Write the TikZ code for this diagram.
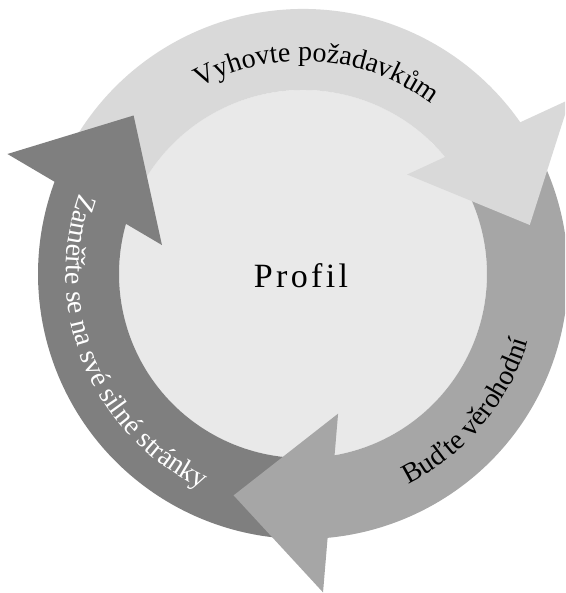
\documentclass[tikz,border=0pt]{standalone}
\usepackage{fontspec}
\setmainfont{Liberation Serif}
\newfontfamily\profilfont[LetterSpace=10]{Liberation Serif}
\usetikzlibrary{decorations.text,calc}
\usepackage{xcolor}

\definecolor{ringlight}{HTML}{D9D9D9}
\definecolor{ringmid}{HTML}{A6A6A6}
\definecolor{ringdark}{HTML}{7F7F7F}
\definecolor{hubfill}{HTML}{E9E9E9}
\newcommand\ringfont{\fontsize{28}{32}\selectfont}

\tikzset{
  ringtext/.style={decorate, decoration={text along path, text align=center}}
}

\begin{document}
\begin{tikzpicture}[x=1pt,y=1pt]

\useasboundingbox (-303,-319) rectangle (262,274);
\clip (-303,-319) rectangle (262,274);

% hub
\fill[hubfill] (0,0) circle[radius=184];

% ring pieces: colour / start / end
\foreach \col/\s/\e in {ringlight/152/30, ringmid/27/-89.5, ringdark/267.6/155} {
    \fill[\col] (\s:265) arc[start angle=\s, end angle=\e, radius=265]
        -- (\e:184) arc[start angle=\e, end angle=\s, radius=184] -- cycle;
}

% arrow heads: colour / tip angle
\foreach \col/\t in {ringlight/12.2, ringmid/-107.4, ringdark/136.9} {
    \fill[\col] (\t:232) -- ({\t+21}:319) -- ({\t+31.5}:144) -- cycle;
}

\node[font=\profilfont\fontsize{34}{40}\selectfont] (profil) at (-2,-2) {Profil};

% labels on the ring
\path[ringtext, decoration={text={|\ringfont|Vyhovte požadavkům}}]
    (136:213) arc[start angle=136, end angle=36, radius=213];
\path[ringtext, decoration={text={|\ringfont|Buďte věrohodní}}]
    (-88:235) arc[start angle=-88, end angle=8, radius=235];
\path[ringtext, decoration={text color=white, text={|\ringfont|Zaměřte se na své silné stránky}}]
    (150:237) arc[start angle=150, end angle=255, radius=237];

\end{tikzpicture}
\end{document}
